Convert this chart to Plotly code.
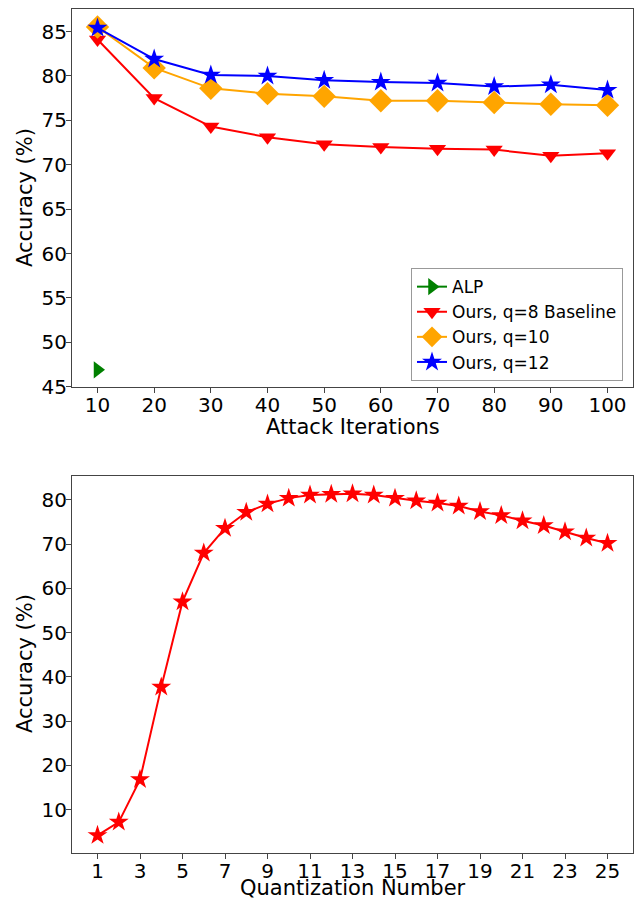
import plotly.graph_objects as go
from plotly.subplots import make_subplots

# Top chart data
iterations = [10, 20, 30, 40, 50, 60, 70, 80, 90, 100]
alp_x = [10]
alp_y = [46.9]
q8 = [84.1, 77.5, 74.3, 73.1, 72.3, 72.0, 71.8, 71.7, 71.0, 71.3]
q10 = [85.5, 80.9, 78.6, 78.0, 77.7, 77.2, 77.2, 77.0, 76.8, 76.7]
q12 = [85.4, 81.9, 80.1, 80.0, 79.5, 79.3, 79.2, 78.8, 79.0, 78.4]

# Bottom chart data
quant = list(range(1, 26))
quant_acc = [4.2, 7.2, 16.8, 37.7, 57.0, 68.0, 73.6, 77.2, 79.1, 80.4, 81.1, 81.3,
             81.4, 81.1, 80.4, 79.8, 79.3, 78.6, 77.4, 76.5, 75.3, 74.2, 72.8, 71.4, 70.2]

top_ticks = [10, 20, 30, 40, 50, 60, 70, 80, 90, 100]
top_yticks = [45, 50, 55, 60, 65, 70, 75, 80, 85]
bot_ticks = [1, 3, 5, 7, 9, 11, 13, 15, 17, 19, 21, 23, 25]
bot_yticks = [10, 20, 30, 40, 50, 60, 70, 80]

FONT = "DejaVu Sans"
W, H = 644, 901

fig = make_subplots(rows=2, cols=1)

fig.add_trace(go.Scatter(x=alp_x, y=alp_y, name="ALP", mode="lines+markers",
                         line=dict(color="green", width=2),
                         marker=dict(symbol="triangle-right", size=15, color="green")),
              row=1, col=1)
fig.add_trace(go.Scatter(x=iterations, y=q8, name="Ours, q=8 Baseline", mode="lines+markers",
                         line=dict(color="red", width=2),
                         marker=dict(symbol="triangle-down", size=15, color="red")),
              row=1, col=1)
fig.add_trace(go.Scatter(x=iterations, y=q10, name="Ours, q=10", mode="lines+markers",
                         line=dict(color="orange", width=2),
                         marker=dict(symbol="diamond", size=18, color="orange")),
              row=1, col=1)
fig.add_trace(go.Scatter(x=iterations, y=q12, name="Ours, q=12", mode="lines+markers",
                         line=dict(color="blue", width=2),
                         marker=dict(symbol="star", size=15, color="blue")),
              row=1, col=1)

fig.add_trace(go.Scatter(x=quant, y=quant_acc, name="acc", mode="lines+markers",
                         showlegend=False,
                         line=dict(color="red", width=2),
                         marker=dict(symbol="star", size=15, color="red")),
              row=2, col=1)

axis_common = dict(showline=True, mirror=True, linecolor="#444", linewidth=1,
                   ticks="outside", ticklen=5, tickcolor="#444", showgrid=False,
                   zeroline=False, automargin=False, ticklabelstandoff=-5,
                   tickfont=dict(family=FONT, size=20, color="black"))

TITLE_FONT = dict(family=FONT, size=21, color="black")
xdom = [72 / W, 633 / W]
xmid = (xdom[0] + xdom[1]) / 2
fig.update_layout(
    template="none",
    width=W, height=H,
    margin=dict(l=0, r=0, t=0, b=0),
    paper_bgcolor="white", plot_bgcolor="white",
    font=dict(family=FONT, color="black"),
    xaxis=dict(domain=xdom, range=[5.5, 104.5], tickvals=top_ticks, **axis_common),
    yaxis=dict(domain=[1 - 387 / H, 1 - 9.3 / H], range=[44.97, 87.5], tickvals=top_yticks,
               **axis_common),
    xaxis2=dict(domain=xdom, range=[-0.2, 26.2], tickvals=bot_ticks, **axis_common),
    yaxis2=dict(domain=[1 - 852.5 / H, 1 - 476 / H], range=[0.33, 85.4], tickvals=bot_yticks,
                **axis_common),
    legend=dict(x=411 / W, xanchor="left", y=1 - 324.6 / H, yanchor="middle",
                bgcolor="white", bordercolor="#999", borderwidth=1,
                font=dict(family=FONT, size=17, color="black")),
)

# axis titles placed as annotations for exact positioning
titles = [
    ("Attack Iterations", xmid, 1 - 427.5 / H, 0, "middle"),
    ("Quantization Number", xmid, 0.0, 0, "bottom"),
    ("Accuracy (%)", 25 / W, 1 - 198 / H, -90, "middle"),
    ("Accuracy (%)", 25 / W, 1 - 664 / H, -90, "middle"),
]
for text, x, y, ang, ya in titles:
    fig.add_annotation(text=text, x=x, y=y, xref="paper", yref="paper",
                       xanchor="center", yanchor=ya, textangle=ang, borderpad=0,
                       showarrow=False, font=TITLE_FONT)

fig.write_html("out.html", config={"displayModeBar": False},
               post_script="document.body.style.margin='0';document.body.style.overflow='hidden';")
